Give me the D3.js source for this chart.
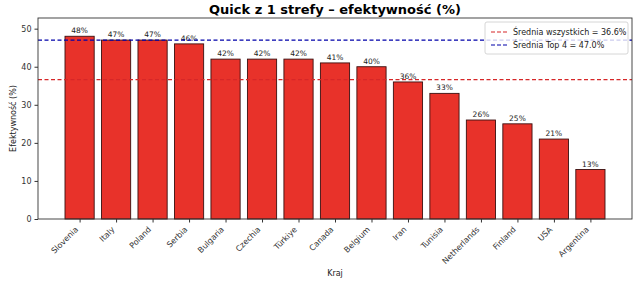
<!DOCTYPE html>
<html><head><meta charset="utf-8">
<script src="https://cdn.jsdelivr.net/npm/d3@7"></script>
<style>body{margin:0;background:#fff}svg{display:block}text{font-family:"DejaVu Sans",sans-serif}</style>
</head><body><svg id="c" width="640" height="284"></svg>
<script>
const categories = ["Slovenia","Italy","Poland","Serbia","Bulgaria","Czechia","Türkiye","Canada","Belgium","Iran","Tunisia","Netherlands","Finland","USA","Argentina"];
const values = [48,47,47,46,42,42,42,41,40,36,33,26,25,21,13];
const yTicks = [0,10,20,30,40,50];
const avgAll = 36.6;
const avgTop4 = 47.0;
const title = "Quick z 1 strefy – efektywność (%)";

const svg = d3.select("#c");
const L=38, R=632, T=18, B=219;
const x = d3.scaleLinear().domain([-1.14, 15.14]).range([L, R]);
const y = d3.scaleLinear().domain([0, 52.8]).range([B, T]);
const bw = x(0.8) - x(0);

svg.append("text").attr("x",(L+R)/2).attr("y",14).attr("text-anchor","middle")
  .attr("font-size",13).attr("font-weight","bold").text(title);

svg.selectAll("rect.bar").data(values).enter().append("rect").attr("class","bar")
  .attr("x",(d,i)=>x(i)-bw/2).attr("y",d=>y(d)).attr("width",bw).attr("height",d=>B-y(d))
  .attr("fill","#e8322a").attr("stroke","#3a1010").attr("stroke-width",0.9);

svg.selectAll("text.val").data(values).enter().append("text").attr("class","val")
  .attr("x",(d,i)=>x(i)).attr("y",d=>y(d)-3).attr("text-anchor","middle")
  .attr("font-size",7.5).attr("fill","#222").text(d=>d+"%");

svg.append("line").attr("x1",L).attr("x2",R).attr("y1",y(avgAll)).attr("y2",y(avgAll))
  .attr("stroke","#d62728").attr("stroke-width",1.1).attr("stroke-dasharray","4,2.5");
svg.append("line").attr("x1",L).attr("x2",R).attr("y1",y(avgTop4)).attr("y2",y(avgTop4))
  .attr("stroke","#0000aa").attr("stroke-width",1.1).attr("stroke-dasharray","4,2.5");

// axes
const yAxis = d3.axisLeft(y).tickValues(yTicks).tickSize(3.5).tickPadding(3);
const gy = svg.append("g").attr("transform",`translate(${L},0)`).call(yAxis);
gy.select(".domain").remove();
gy.selectAll("text").attr("font-size",8).attr("fill","#333");
gy.selectAll("line").attr("stroke","#333");

const xAxis = d3.axisBottom(x).tickValues(d3.range(categories.length)).tickFormat(i=>categories[i]).tickSize(3.5).tickPadding(2);
const gx = svg.append("g").attr("transform",`translate(0,${B})`).call(xAxis);
gx.select(".domain").remove();
gx.selectAll("line").attr("stroke","#333");
gx.selectAll("text").attr("font-size",8).attr("fill","#333")
  .attr("text-anchor","end").attr("y",0).attr("dy","0").attr("transform","translate(-1.5,11) rotate(-45)");

svg.append("rect").attr("x",L).attr("y",T).attr("width",R-L).attr("height",B-T)
  .attr("fill","none").attr("stroke","#333").attr("stroke-width",0.9);

svg.append("text").attr("x",(L+R)/2).attr("y",276).attr("text-anchor","middle").attr("font-size",8).attr("fill","#222").text("Kraj");
svg.append("text").attr("transform",`translate(16,${(T+B)/2}) rotate(-90)`).attr("text-anchor","middle").attr("font-size",8).attr("fill","#222").text("Efektywność (%)");

// legend
const lg = svg.append("g").attr("transform","translate(485,22)");
lg.append("rect").attr("width",143).attr("height",32).attr("rx",2).attr("fill","#fff").attr("fill-opacity",0.8).attr("stroke","#ccc").attr("stroke-width",0.8);
const items=[{c:"#d62728",t:`Średnia wszystkich = ${avgAll.toFixed(1)}%`},{c:"#0000aa",t:`Średnia Top 4 = ${avgTop4.toFixed(1)}%`}];
items.forEach((it,i)=>{
  const yy=10+i*13;
  lg.append("line").attr("x1",6).attr("x2",22).attr("y1",yy).attr("y2",yy).attr("stroke",it.c).attr("stroke-width",1.1).attr("stroke-dasharray","4,2");
  lg.append("text").attr("x",28).attr("y",yy+3).attr("font-size",8).attr("fill","#222").text(it.t);
});
</script></body></html>
